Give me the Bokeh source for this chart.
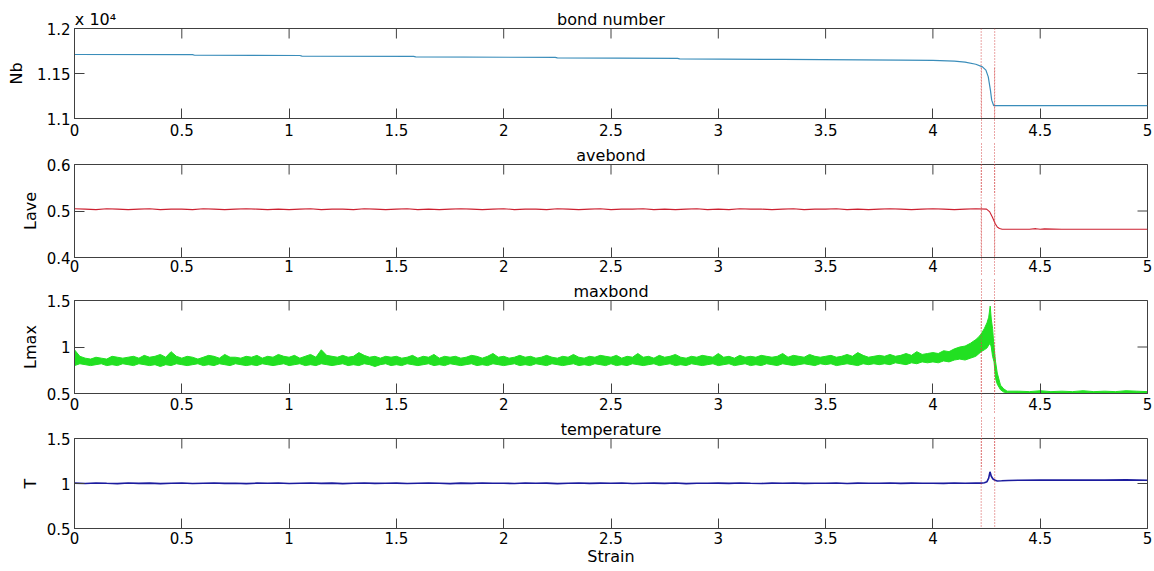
import numpy as np
from bokeh.plotting import figure
from bokeh.layouts import column
from bokeh.models import (LinearAxis, FixedTicker, NumeralTickFormatter, Span,
                          Range1d, CustomJSTickFormatter)
from bokeh.embed import file_html
from bokeh.resources import INLINE

FONT = "DejaVu Sans"
AX_COLOR = "#404040"
DOT_COLOR = "#d44a4a"

# ---------------- data ----------------
x_ticks = [0, 0.5, 1, 1.5, 2, 2.5, 3, 3.5, 4, 4.5, 5]
fail_strains = [4.225, 4.288]
titles = ["bond number", "avebond", "maxbond", "temperature"]
y_labels = ["Nb", "Lave", "Lmax", "T"]

# bond number (x 10^4)
nb_strain = [0, 0.55, 0.56, 1.05, 1.06, 1.58, 1.59, 2.24, 2.25, 2.81, 2.82, 3.3,
             3.85, 4.0, 4.1, 4.15, 4.2, 4.231, 4.247, 4.258, 4.268, 4.274, 4.283, 5.0]
nb_value = [1.1711, 1.1710, 1.1703, 1.1700, 1.1693, 1.1690, 1.1684, 1.1679, 1.1673,
            1.1668, 1.1662, 1.1656, 1.1648, 1.1645, 1.1637, 1.1627, 1.1603, 1.1574,
            1.1537, 1.1462, 1.1315, 1.1204, 1.1144, 1.1144]

# average bond length
lave_strain_grid = np.round(np.arange(86) * 0.05, 3)
lave_grid = [0.505, 0.504, 0.503, 0.505, 0.504, 0.503, 0.504, 0.505, 0.503, 0.504,
             0.504, 0.503, 0.505, 0.504, 0.503, 0.504, 0.505, 0.504, 0.503, 0.504,
             0.503, 0.504, 0.505, 0.503, 0.504, 0.504, 0.503, 0.505, 0.504, 0.503,
             0.504, 0.505, 0.503, 0.504, 0.503, 0.504, 0.505, 0.504, 0.503, 0.504,
             0.505, 0.503, 0.504, 0.504, 0.503, 0.505, 0.504, 0.503, 0.504, 0.505,
             0.503, 0.504, 0.504, 0.505, 0.503, 0.504, 0.503, 0.504, 0.505, 0.503,
             0.504, 0.503, 0.505, 0.504, 0.504, 0.503, 0.504, 0.505, 0.503, 0.504,
             0.504, 0.505, 0.503, 0.504, 0.503, 0.504, 0.505, 0.504, 0.503, 0.504,
             0.505, 0.504, 0.503, 0.504, 0.505, 0.504]
lave_strain_tail = [4.265, 4.277, 4.29, 4.30, 4.31, 4.323, 4.4, 4.45, 4.48, 4.5, 4.52, 4.6, 5.0]
lave_tail = [0.498, 0.487, 0.473, 0.4655, 0.4625, 0.4607, 0.4607, 0.4607, 0.462, 0.4607,
             0.4615, 0.4607, 0.4607]

# max bond length: lower / upper envelope of the noisy signal
lmax_strain_grid = np.round(np.arange(169) * 0.025, 3)
lmax_upper_grid = [
    0.97, 0.90, 0.88, 0.87, 0.89, 0.88, 0.87, 0.90, 0.89, 0.88,
    0.89, 0.90, 0.88, 0.91, 0.89, 0.90, 0.92, 0.89, 0.95, 0.90,
    0.88, 0.90, 0.89, 0.87, 0.89, 0.91, 0.90, 0.88, 0.92, 0.89,
    0.89, 0.88, 0.90, 0.89, 0.91, 0.88, 0.90, 0.89, 0.92, 0.90,
    0.89, 0.91, 0.88, 0.90, 0.92, 0.89, 0.97, 0.91, 0.90, 0.89,
    0.91, 0.89, 0.90, 0.94, 0.91, 0.89, 0.90, 0.88, 0.90, 0.89,
    0.90, 0.88, 0.89, 0.91, 0.88, 0.90, 0.89, 0.92, 0.88, 0.90,
    0.89, 0.90, 0.88, 0.89, 0.91, 0.90, 0.88, 0.90, 0.93, 0.89,
    0.90, 0.88, 0.89, 0.91, 0.89, 0.90, 0.88, 0.89, 0.91, 0.89,
    0.88, 0.90, 0.89, 0.92, 0.89, 0.88, 0.90, 0.89, 0.91, 0.90,
    0.89, 0.91, 0.88, 0.90, 0.89, 0.93, 0.89, 0.90, 0.88, 0.91,
    0.89, 0.90, 0.92, 0.89, 0.88, 0.90, 0.89, 0.91, 0.90, 0.89,
    0.93, 0.89, 0.90, 0.88, 0.91, 0.89, 0.90, 0.89, 0.91, 0.90,
    0.89, 0.90, 0.93, 0.89, 0.91, 0.90, 0.89, 0.92, 0.90, 0.89,
    0.90, 0.91, 0.89, 0.90, 0.92, 0.90, 0.94, 0.91, 0.89, 0.90,
    0.91, 0.90, 0.92, 0.90, 0.91, 0.93, 0.91, 0.95, 0.92, 0.93,
    0.94, 0.93, 0.96, 0.95, 0.98, 1.00, 1.01, 1.04, 1.08]
lmax_lower_grid = [
    0.80, 0.82, 0.81, 0.80, 0.81, 0.82, 0.80, 0.81, 0.80, 0.82,
    0.81, 0.80, 0.82, 0.81, 0.80, 0.81, 0.79, 0.81, 0.80, 0.82,
    0.81, 0.80, 0.81, 0.82, 0.80, 0.81, 0.80, 0.82, 0.81, 0.80,
    0.82, 0.81, 0.80, 0.81, 0.80, 0.82, 0.81, 0.80, 0.81, 0.82,
    0.80, 0.81, 0.82, 0.80, 0.81, 0.80, 0.82, 0.81, 0.80, 0.81,
    0.82, 0.80, 0.81, 0.80, 0.82, 0.81, 0.79, 0.81, 0.82, 0.80,
    0.81, 0.80, 0.82, 0.81, 0.80, 0.81, 0.82, 0.80, 0.81, 0.80,
    0.82, 0.81, 0.80, 0.81, 0.82, 0.80, 0.81, 0.80, 0.82, 0.81,
    0.80, 0.81, 0.82, 0.80, 0.81, 0.80, 0.82, 0.81, 0.80, 0.82,
    0.81, 0.80, 0.81, 0.82, 0.80, 0.81, 0.80, 0.82, 0.81, 0.80,
    0.82, 0.80, 0.81, 0.80, 0.82, 0.81, 0.80, 0.81, 0.82, 0.80,
    0.81, 0.82, 0.80, 0.81, 0.80, 0.82, 0.81, 0.80, 0.81, 0.82,
    0.80, 0.81, 0.82, 0.80, 0.81, 0.82, 0.80, 0.81, 0.80, 0.82,
    0.81, 0.80, 0.82, 0.81, 0.80, 0.81, 0.82, 0.81, 0.80, 0.82,
    0.81, 0.82, 0.80, 0.81, 0.82, 0.81, 0.80, 0.82, 0.81, 0.82,
    0.81, 0.82, 0.81, 0.83, 0.82, 0.81, 0.83, 0.82, 0.84, 0.83,
    0.84, 0.83, 0.85, 0.84, 0.86, 0.87, 0.86, 0.88, 0.90]
lmax_strain_tail = [4.21, 4.225, 4.24, 4.252, 4.26, 4.267, 4.272, 4.278, 4.285, 4.292,
                    4.30, 4.315, 4.33, 4.346, 4.40, 4.45, 4.50, 4.55, 4.60, 4.65,
                    4.70, 4.75, 4.80, 4.85, 4.90, 4.95, 5.0]
lmax_upper_tail = [1.10, 1.14, 1.20, 1.26, 1.32, 1.44, 1.30, 1.20, 1.00, 0.84,
                   0.72, 0.59, 0.55, 0.525, 0.525, 0.52, 0.53, 0.52, 0.525, 0.52,
                   0.53, 0.52, 0.525, 0.52, 0.53, 0.525, 0.52]
lmax_lower_tail = [0.92, 0.95, 0.97, 0.99, 1.02, 1.04, 1.00, 0.90, 0.84, 0.66,
                   0.60, 0.54, 0.515, 0.508, 0.505, 0.505, 0.505, 0.505, 0.505, 0.505,
                   0.505, 0.505, 0.505, 0.505, 0.505, 0.505, 0.505]

# temperature
t_strain_grid = np.round(np.arange(85) * 0.05, 3)
t_grid = [1.004, 1.000, 1.006, 1.002, 0.999, 1.005, 1.001, 1.004, 0.999, 1.003,
          1.005, 1.000, 1.003, 1.006, 1.001, 1.002, 0.999, 1.004, 1.002, 1.005,
          1.000, 1.003, 1.005, 1.001, 1.004, 0.999, 1.003, 1.006, 1.001, 1.002,
          1.004, 1.000, 1.003, 1.005, 1.002, 0.999, 1.004, 1.001, 1.005, 1.002,
          1.003, 1.000, 1.005, 1.002, 1.004, 0.999, 1.003, 1.006, 1.001, 1.004,
          1.002, 1.005, 1.000, 1.003, 1.004, 1.001, 1.005, 0.999, 1.003, 1.002,
          1.004, 1.001, 1.005, 1.002, 1.000, 1.004, 1.003, 1.006, 1.001, 1.003,
          1.002, 1.005, 1.000, 1.004, 1.002, 1.003, 1.005, 1.001, 1.004, 1.002,
          1.003, 1.001, 1.005, 1.002, 1.004]
t_strain_tail = [4.225, 4.24, 4.252, 4.26, 4.266, 4.272, 4.28, 4.29, 4.30, 4.32, 4.35,
                 4.4, 4.5, 4.6, 4.7, 4.8, 4.9, 5.0]
t_tail = [1.004, 1.008, 1.02, 1.06, 1.13, 1.08, 1.05, 1.035, 1.028, 1.03, 1.034,
          1.036, 1.038, 1.037, 1.039, 1.038, 1.04, 1.036]


# ---------------- helpers ----------------
def dotted_below_axis(tick_in):
    # label-free axis: the failure strains are drawn as (dotted) minor ticks only
    ax = LinearAxis(ticker=FixedTicker(ticks=[], minor_ticks=fail_strains))
    ax.axis_line_color = None
    ax.major_tick_in = 0
    ax.major_tick_out = 0
    ax.major_tick_line_color = None
    ax.minor_tick_in = tick_in
    ax.minor_tick_out = 0
    ax.minor_tick_line_color = DOT_COLOR
    ax.minor_tick_line_dash = "1 2"
    ax.minor_tick_line_width = 1
    ax.major_label_standoff = 0
    return ax


def title_axis(text, top, standoff):
    # one axis carries both the panel title and the dotted failure lines running
    # up through the title band (its outward ticks); the negative label standoff
    # brings the title back down next to the frame
    ax = LinearAxis(ticker=FixedTicker(ticks=fail_strains, minor_ticks=[]),
                    formatter=CustomJSTickFormatter(code="return '';"))
    ax.axis_line_color = None
    ax.minor_tick_in = 0
    ax.minor_tick_out = 0
    ax.major_tick_in = 30
    ax.major_tick_out = top + 2
    ax.major_tick_line_color = DOT_COLOR
    ax.major_tick_line_dash = "1 2"
    ax.major_tick_line_width = 1
    ax.major_label_standoff = 0
    ax.major_label_text_font_size = "0px"
    ax.axis_label = text
    ax.axis_label_text_font = FONT
    ax.axis_label_text_font_size = "16px"
    ax.axis_label_text_font_style = "normal"
    ax.axis_label_text_color = "black"
    ax.axis_label_standoff = standoff - (top + 2)
    return ax


def make_panel(ymin, ymax, yticks, ylabel, top, frame_h, bottom, title=None,
               title_standoff=0, ylabel_standoff=4, xlabel=None, last=False,
               tick_label_standoff=5):
    p = figure(frame_width=1073, frame_height=frame_h,
               x_range=Range1d(0, 5), y_range=Range1d(ymin, ymax),
               output_backend="svg", toolbar_location=None,
               min_border_left=74, min_border_right=7,
               min_border_top=top, min_border_bottom=bottom,
               background_fill_color="white", border_fill_color="white")
    p.grid.visible = False
    p.outline_line_color = AX_COLOR
    p.outline_line_width = 1

    def style(ax, ticks):
        ax.ticker = FixedTicker(ticks=ticks, minor_ticks=[])
        ax.formatter = NumeralTickFormatter(format="0.[00]")
        ax.major_tick_in = 10
        ax.major_tick_out = 0
        ax.minor_tick_in = 0
        ax.minor_tick_out = 0
        ax.axis_line_color = AX_COLOR
        ax.major_tick_line_color = AX_COLOR
        ax.major_label_text_font = FONT
        ax.major_label_text_color = "black"
        ax.major_label_text_font_size = "15px"

    xa = p.xaxis[0]
    style(xa, x_ticks)
    xa.major_label_standoff = tick_label_standoff
    if xlabel:
        xa.axis_label = xlabel
        xa.axis_label_text_font = FONT
        xa.axis_label_text_font_size = "16px"
        xa.axis_label_text_font_style = "normal"
        xa.axis_label_text_color = "black"
        xa.axis_label_standoff = 0

    ya = p.yaxis[0]
    style(ya, yticks)
    ya.major_label_standoff = 4
    ya.axis_label = ylabel
    ya.axis_label_text_font = FONT
    ya.axis_label_text_font_size = "16px"
    ya.axis_label_text_font_style = "normal"
    ya.axis_label_text_color = "black"
    ya.axis_label_standoff = ylabel_standoff

    # mirrored inward ticks on the top and right edges (half of each dash is clipped)
    p.scatter(x=x_ticks, y=[ymax] * len(x_ticks), marker="dash", angle=np.pi / 2,
              size=20, line_color=AX_COLOR, line_width=1)
    p.scatter(x=[5] * len(yticks), y=yticks, marker="dash", size=20,
              line_color=AX_COLOR, line_width=1)

    if title is not None:
        p.add_layout(title_axis(title, top, title_standoff), "above")

    # failure markers: dotted lines in the frame and down through the gap below
    for xv in fail_strains:
        p.add_layout(Span(location=xv, dimension="height", line_color=DOT_COLOR,
                          line_dash="1 2", line_width=1))
    if not last:
        p.add_layout(dotted_below_axis(70), "below")
    return p


p1 = make_panel(1.1, 1.2, [1.1, 1.15, 1.2], y_labels[0], 28, 90, 24,
                ylabel_standoff=8, tick_label_standoff=5)
# title row of the first panel: multiplier and title
top_ax = LinearAxis(ticker=FixedTicker(ticks=[0.098, 2.5], minor_ticks=[]),
                    formatter=CustomJSTickFormatter(args=dict(labels=["x 10\u2074", titles[0]]),
                                                    code="return labels[index];"))
top_ax.minor_tick_in = 0
top_ax.minor_tick_out = 0
top_ax.major_tick_in = 0
top_ax.major_tick_out = 0
top_ax.axis_line_color = None
top_ax.major_tick_line_color = None
top_ax.major_label_standoff = 0
top_ax.major_label_text_font = FONT
top_ax.major_label_text_font_size = "16px"
top_ax.major_label_text_color = "black"
p1.add_layout(top_ax, "above")
p1.line(nb_strain, nb_value, line_color="#3a8dba", line_width=1.2)

p2 = make_panel(0.4, 0.6, [0.4, 0.5, 0.6], y_labels[1], 22, 93, 21,
                title=titles[1], title_standoff=0, tick_label_standoff=2)
p2.line(list(lave_strain_grid) + lave_strain_tail, lave_grid + lave_tail,
        line_color="#cc2030", line_width=1.1)

p3 = make_panel(0.5, 1.5, [0.5, 1, 1.5], y_labels[2], 22, 93, 23,
                title=titles[2], title_standoff=0, tick_label_standoff=4)
gx = list(lmax_strain_grid) + lmax_strain_tail
p3.varea(x=gx, y1=lmax_lower_grid + lmax_lower_tail, y2=lmax_upper_grid + lmax_upper_tail,
         fill_color="#22e022")
p3.line(gx, lmax_upper_grid + lmax_upper_tail, line_color="#22e022", line_width=1)
p3.line(gx, lmax_lower_grid + lmax_lower_tail, line_color="#22e022", line_width=1)

p4 = make_panel(0.5, 1.5, [0.5, 1, 1.5], y_labels[3], 22, 90, 43,
                title=titles[3], title_standoff=0, xlabel="Strain", last=True,
                tick_label_standoff=3)
p4.line(list(t_strain_grid) + t_strain_tail, t_grid + t_tail,
        line_color="#1c1c9e", line_width=1.6)

layout = column(p1, p2, p3, p4, spacing=0)
open("out.html", "w").write(file_html(layout, INLINE))
